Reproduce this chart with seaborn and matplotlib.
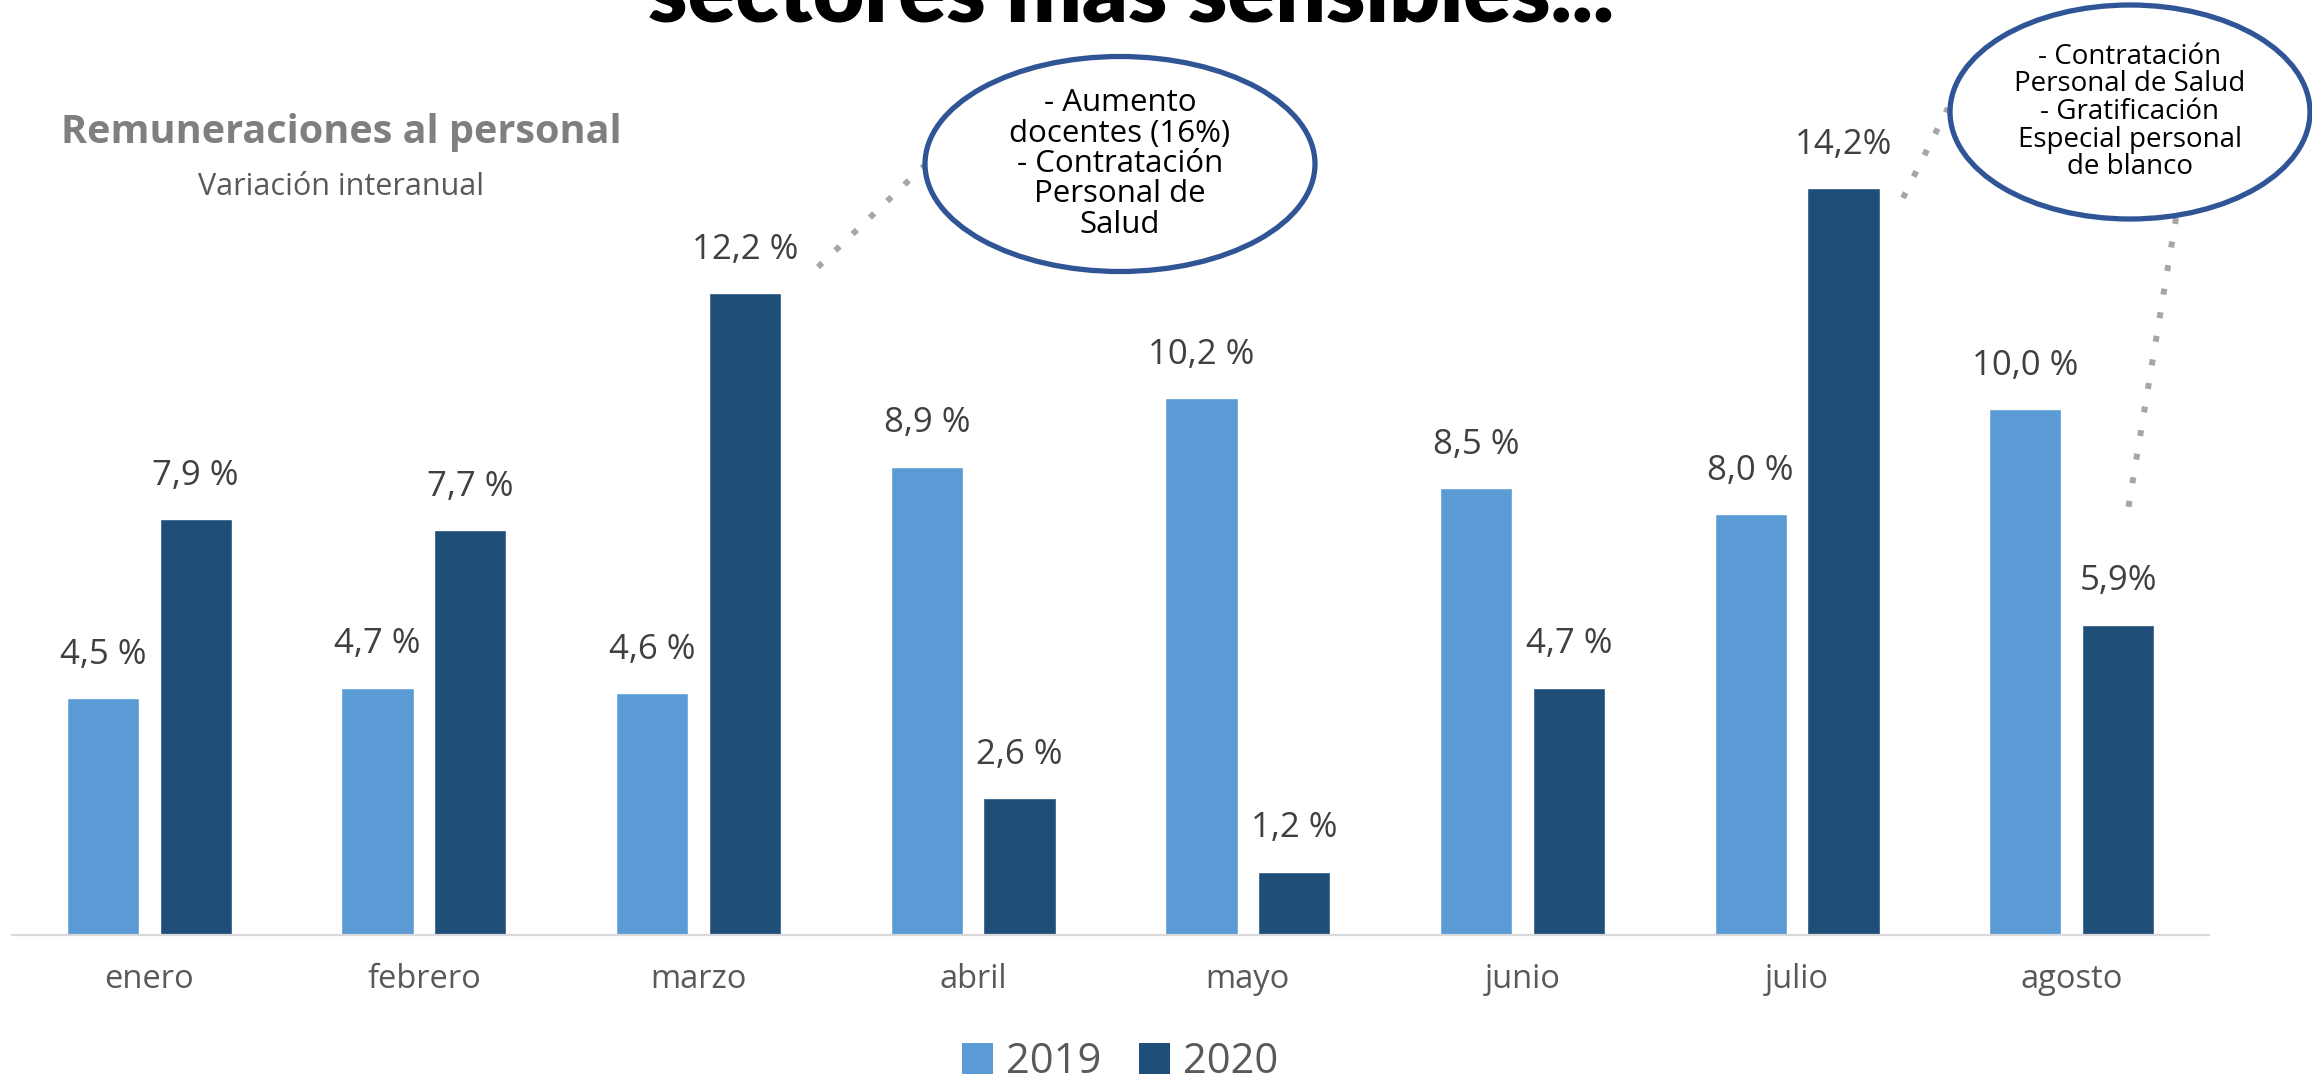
import numpy as np
import pandas as pd
import matplotlib
matplotlib.use('Agg')
import matplotlib.pyplot as plt
from matplotlib.patches import Ellipse, Patch
from matplotlib.lines import Line2D
import seaborn as sns

# Datos
meses = ['enero', 'febrero', 'marzo', 'abril', 'mayo', 'junio', 'julio', 'agosto']
anios = ['2019', '2020']
var_2019 = [4.5, 4.7, 4.6, 8.9, 10.2, 8.5, 8.0, 10.0]
var_2020 = [7.9, 7.7, 12.2, 2.6, 1.2, 4.7, 14.2, 5.9]
etiquetas_2019 = ['4,5 %', '4,7 %', '4,6 %', '8,9 %', '10,2 %', '8,5 %', '8,0 %', '10,0 %']
etiquetas_2020 = ['7,9 %', '7,7 %', '12,2 %', '2,6 %', '1,2 %', '4,7 %', '14,2%', '5,9%']
nota_marzo = '- Aumento\ndocentes (16%)\n- Contratación\nPersonal de\nSalud'
nota_julio = '- Contratación\nPersonal de Salud\n- Gratificación\nEspecial personal\nde blanco'

df = pd.DataFrame({
    'mes': meses * 2,
    'anio': [anios[0]] * len(meses) + [anios[1]] * len(meses),
    'valor': var_2019 + var_2020,
})

colores = {'2019': '#5B9BD5', '2020': '#1F4E79'}

sns.set_style('white')
plt.rcParams['font.family'] = ['Open Sans', 'DejaVu Sans']

W, H = 2312, 1085


def fx(x):
    return x / W


def fy(y):
    return 1 - y / H


fig = plt.figure(figsize=(W / 100, H / 100), dpi=100)
ax = fig.add_axes([fx(12), fy(935), fx(2209) - fx(12), fy(0) - fy(935)])

sns.barplot(data=df, x='mes', y='valor', hue='anio', palette=colores,
            width=0.675, gap=0.22, saturation=1, legend=False, ax=ax)

ax.set_ylim(0, 935 / 52.6)
ax.set_xlim(-0.5, len(meses) - 0.5)
ax.set_xlabel('')
ax.set_ylabel('')
ax.set_yticks([])
for lado in ['top', 'left', 'right']:
    ax.spines[lado].set_visible(False)
ax.spines['bottom'].set_color('#D9D9D9')
ax.spines['bottom'].set_linewidth(1.6)
ax.tick_params(axis='x', length=0, pad=20, labelsize=23.5, labelcolor='#595959')

# Etiquetas de valores
for cont, etiquetas in zip(ax.containers, [etiquetas_2019, etiquetas_2020]):
    ax.bar_label(cont, labels=etiquetas, padding=19, fontsize=25, color='#404040')

# Titulos
fig.text(fx(1131), fy(21), 'sectores más sensibles...', ha='center', va='baseline',
         fontsize=64, fontweight='heavy', color='black', family=['Lato', 'DejaVu Sans'])
fig.text(fx(341), fy(143), 'Remuneraciones al personal', ha='center', va='baseline',
         fontsize=28.5, fontweight='bold', color='#7F7F7F')
fig.text(fx(341), fy(195), 'Variación interanual', ha='center', va='baseline',
         fontsize=22, color='#595959')

# Lineas punteadas
gris = '#A6A6A6'
for (x0, y0, x1, y1) in [(818, 267, 924, 166), (1903, 198, 1948, 108), (2176, 218, 2128, 510)]:
    fig.add_artist(Line2D([fx(x0), fx(x1)], [fy(y0), fy(y1)], transform=fig.transFigure,
                          color=gris, lw=4.3, linestyle=(0, (1, 3)), dash_capstyle='butt'))

# Elipses con notas
azul = '#2F5597'
for (cx, cy, ew, eh, texto, fs, ls) in [(1120, 164, 390, 215, nota_marzo, 22.5, 1.02),
                                        (2130, 112, 360, 214, nota_julio, 20, 0.98)]:
    fig.add_artist(Ellipse((fx(cx), fy(cy)), ew / W, eh / H, transform=fig.transFigure,
                           facecolor='white', edgecolor=azul, lw=3.8, zorder=5))
    fig.text(fx(cx), fy(cy), texto, ha='center', va='center', fontsize=fs,
             color='black', linespacing=ls, zorder=6)

# Leyenda
handles = [Patch(facecolor=colores[a], edgecolor='none', label=a) for a in anios]
fig.legend(handles=handles, loc='center', bbox_to_anchor=(fx(1120), fy(1062)), ncol=2,
           frameon=False, fontsize=30, labelcolor='#595959', handlelength=0.75,
           handleheight=0.75, handletextpad=0.3, columnspacing=0.9)

fig.savefig('out.png', dpi=100)
